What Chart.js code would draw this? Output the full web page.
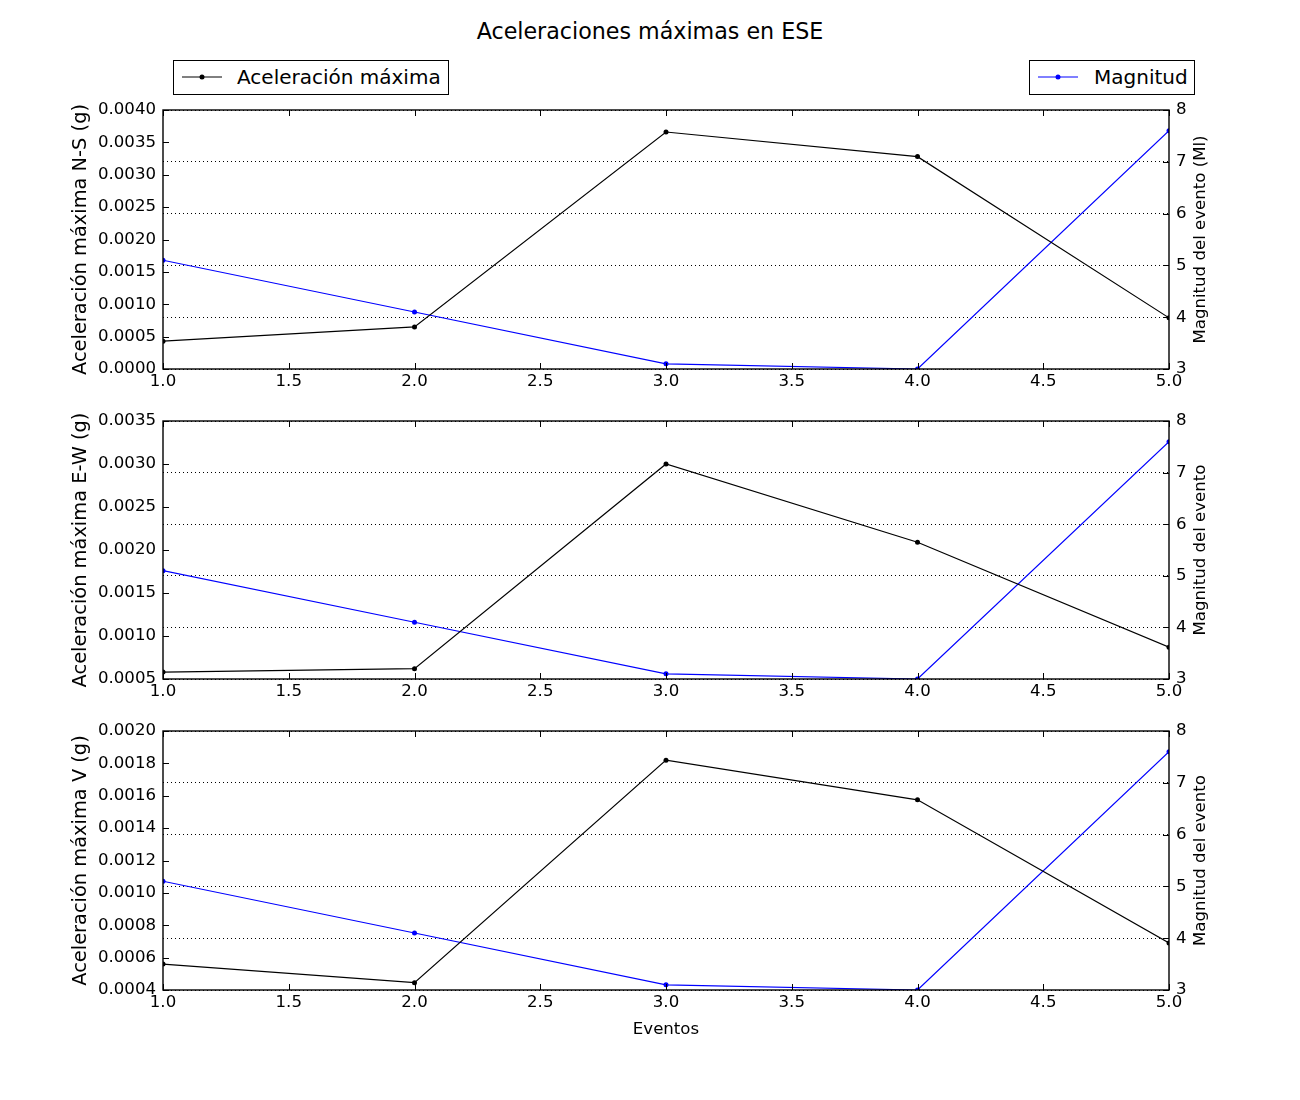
<!DOCTYPE html>
<html>
<head>
<meta charset="utf-8">
<script src="https://cdn.jsdelivr.net/npm/chart.js@4.4.0/dist/chart.umd.min.js"></script>
<style>
body { margin: 0; background: #fff; font-family: "DejaVu Sans"; }
#wrap { position: relative; width: 1300px; height: 1100px; }
canvas { position: absolute; left: 0; }
.titulo { position: absolute; top: 18px; left: 0; width: 1300px; text-align: center; font-size: 22.2px; line-height: 26px; }
.leg { position: absolute; top: 60px; height: 35px; border: 1px solid #000; box-sizing: border-box; font-size: 20px; line-height: 33px; background: #fff; }
.leg svg { position: absolute; left: 7px; top: 0; }
.leg span { position: absolute; top: 0; white-space: nowrap; }
</style>
</head>
<body>
<div id="wrap">
  <div class="titulo">Aceleraciones máximas en ESE</div>
  <div class="leg" style="left:173px;width:276px;">
    <svg width="42" height="33"><line x1="1" y1="16" x2="41" y2="16" stroke="#000" stroke-width="1"/><circle cx="21" cy="16" r="2.5" fill="#000"/></svg>
    <span style="left:63px;">Aceleración máxima</span>
  </div>
  <div class="leg" style="left:1029px;width:166px;">
    <svg width="42" height="33"><line x1="1" y1="16" x2="41" y2="16" stroke="#0000ff" stroke-width="1"/><circle cx="21" cy="16" r="2.5" fill="#0000ff"/></svg>
    <span style="left:64px;">Magnitud</span>
  </div>
  <canvas id="c1" width="1300" height="400" style="top:0px"></canvas>
  <canvas id="c2" width="1300" height="310" style="top:400px"></canvas>
  <canvas id="c3" width="1300" height="390" style="top:710px"></canvas>
</div>
<script>
// datos
const eventos = [1, 2, 3, 4, 5];
const accNS = [0.00043, 0.00065, 0.00366, 0.00328, 0.00079];
const accEW = [0.00058, 0.00062, 0.00300, 0.00209, 0.00087];
const accV = [0.00056, 0.000445, 0.00182, 0.001575, 0.00069];
const magnitud = [5.1, 4.1, 3.1, 3.0, 7.6];

const fuente = '"DejaVu Sans"';

// marco, ticks hacia dentro y etiqueta del eje derecho
const marco = {
  id: 'marco',
  afterDatasetsDraw(chart, args, opts) {
    const { ctx, chartArea: a, scales } = chart;
    const t = 6;
    ctx.save();
    ctx.strokeStyle = '#000';
    ctx.lineWidth = 1;
    ctx.beginPath();
    scales.x.ticks.forEach(tk => {
      const px = Math.round(scales.x.getPixelForValue(tk.value)) + 0.5;
      ctx.moveTo(px, a.bottom); ctx.lineTo(px, a.bottom - t);
      ctx.moveTo(px, a.top); ctx.lineTo(px, a.top + t);
    });
    scales.y.ticks.forEach(tk => {
      const py = Math.round(scales.y.getPixelForValue(tk.value)) + 0.5;
      ctx.moveTo(a.left, py); ctx.lineTo(a.left + t, py);
    });
    scales.y2.ticks.forEach(tk => {
      const py = Math.round(scales.y2.getPixelForValue(tk.value)) + 0.5;
      ctx.moveTo(a.right, py); ctx.lineTo(a.right - t, py);
    });
    ctx.stroke();
    ctx.lineWidth = 1.4;
    ctx.strokeRect(a.left, a.top, a.right - a.left, a.bottom - a.top);
    ctx.font = '16.6px ' + fuente;
    ctx.fillStyle = '#000';
    ctx.textAlign = 'center';
    ctx.textBaseline = 'middle';
    ctx.translate(a.right + 32, (a.top + a.bottom) / 2);
    ctx.rotate(-Math.PI / 2);
    ctx.fillText(opts.texto, 0, 0);
    ctx.restore();
  }
};

function grafico(id, acc, yMin, yMax, yPaso, tituloY, tituloY2, arriba, abajo, altoX, conTituloX) {
  return new Chart(document.getElementById(id), {
    type: 'line',
    data: {
      labels: eventos,
      datasets: [{
        data: acc,
        borderColor: '#000',
        backgroundColor: '#000',
        borderWidth: 1.2,
        pointRadius: 2.5,
        pointBorderWidth: 0,
        yAxisID: 'y'
      }, {
        data: magnitud,
        borderColor: '#0000ff',
        backgroundColor: '#0000ff',
        borderWidth: 1.2,
        pointRadius: 2.5,
        pointBorderWidth: 0,
        yAxisID: 'y2'
      }]
    },
    options: {
      responsive: false,
      animation: false,
      layout: { padding: { left: 69, right: 0, top: arriba, bottom: abajo } },
      plugins: {
        legend: { display: false },
        tooltip: { enabled: false },
        marco: { texto: tituloY2 }
      },
      scales: {
        x: {
          type: 'linear',
          min: 1, max: 5,
          grid: { display: false, drawTicks: false },
          border: { display: false },
          ticks: {
            stepSize: 0.5, padding: 3, color: '#000', maxRotation: 0,
            font: { family: fuente, size: 16.6 },
            callback: v => v.toFixed(1)
          },
          title: {
            display: conTituloX, text: 'Eventos', color: '#000', padding: 0,
            font: { family: fuente, size: 16.6 }
          },
          afterFit: s => { s.height = altoX; }
        },
        y: {
          position: 'left',
          min: yMin, max: yMax,
          grid: { display: false, drawTicks: false },
          border: { display: false },
          ticks: {
            stepSize: yPaso, padding: 7, color: '#000',
            font: { family: fuente, size: 16.6 },
            callback: v => v.toFixed(4)
          },
          title: {
            display: true, text: tituloY, color: '#000', padding: 0,
            font: { family: fuente, size: 19.4 }
          },
          afterFit: s => { s.width = 94; }
        },
        y2: {
          position: 'right',
          min: 3, max: 8,
          grid: { drawOnChartArea: true, drawTicks: false, color: '#000', lineWidth: 1 },
          border: { display: false, dash: [1, 3] },
          ticks: {
            stepSize: 1, padding: 7, color: '#000',
            font: { family: fuente, size: 16.6 },
            callback: v => String(v)
          },
          afterFit: s => { s.width = 131; }
        }
      }
    },
    plugins: [marco]
  });
}

grafico('c1', accNS, 0, 0.004, 0.0005, 'Aceleración máxima N-S (g)', 'Magnitud del evento (Ml)', 110, 0, 31, false);
grafico('c2', accEW, 0.0005, 0.0035, 0.0005, 'Aceleración máxima E-W (g)', 'Magnitud del evento', 21, 0, 31, false);
grafico('c3', accV, 0.0004, 0.002, 0.0002, 'Aceleración máxima V (g)', 'Magnitud del evento', 21, 60, 50, true);
</script>
</body>
</html>
